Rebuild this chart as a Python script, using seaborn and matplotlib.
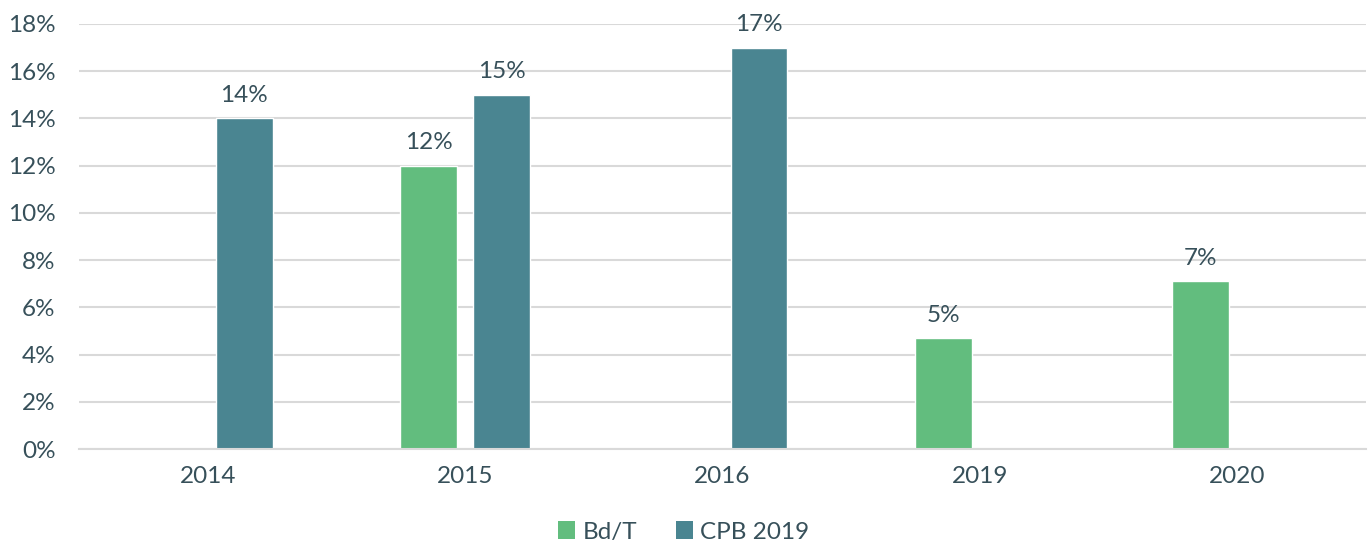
import matplotlib
matplotlib.use("Agg")
import matplotlib.pyplot as plt
from matplotlib.patches import Patch
from matplotlib.ticker import FuncFormatter, MultipleLocator
import numpy as np
import pandas as pd
import seaborn as sns

years = ["2014", "2015", "2016", "2019", "2020"]
bdt = [np.nan, 12.0, np.nan, 4.7, 7.1]
cpb = [14.0, 15.0, 17.0, np.nan, np.nan]
series_names = ["Bd/T", "CPB 2019"]
colors = ["#62BD7E", "#4A8591"]
text_color = "#37505A"

df = pd.DataFrame({
    "year": years * 2,
    "value": bdt + cpb,
    "series": [series_names[0]] * len(years) + [series_names[1]] * len(years),
})

sns.set_theme(style="white")
plt.rcParams["font.family"] = ["Lato", "DejaVu Sans"]

fig = plt.figure(figsize=(13.68, 5.43), dpi=100)
ax = fig.add_axes([79 / 1368, 1 - 449 / 543, 1287 / 1368, 425 / 543])

sns.barplot(data=df, x="year", y="value", hue="series", order=years,
            hue_order=series_names, palette=colors, width=0.567, gap=0.22,
            saturation=1, errorbar=None, legend=False, ax=ax)

for container in ax.containers:
    labels = ["" if np.isnan(v) else f"{v:.0f}%" for v in container.datavalues]
    ax.bar_label(container, labels=labels, padding=9, fontsize=17.5, color=text_color)

ax.set_ylim(0, 18)
ax.set_xlim(-0.5, 4.5)
ax.yaxis.set_major_locator(MultipleLocator(2))
ax.yaxis.set_major_formatter(FuncFormatter(lambda v, _: f"{v:.0f}%"))
ax.grid(axis="y", color="#D9D9D9", linewidth=1.5)
ax.set_axisbelow(True)
for side in ["top", "right", "left"]:
    ax.spines[side].set_visible(False)
ax.spines["bottom"].set_color("#D9D9D9")
ax.spines["bottom"].set_linewidth(1.5)
ax.tick_params(axis="both", length=0, labelsize=17.5, labelcolor=text_color)
ax.tick_params(axis="y", pad=17)
ax.tick_params(axis="x", pad=12)
ax.set_xlabel("")
ax.set_ylabel("")

handles = [Patch(facecolor=c, edgecolor="none") for c in colors]
fig.legend(handles, series_names, loc="center", bbox_to_anchor=(0.5, 1 - 532 / 543),
           ncol=2, frameon=False, fontsize=17.5, labelcolor=text_color,
           handlelength=0.7, handleheight=0.7, handletextpad=0.3, columnspacing=1.6)

fig.savefig("out.png", dpi=100)
